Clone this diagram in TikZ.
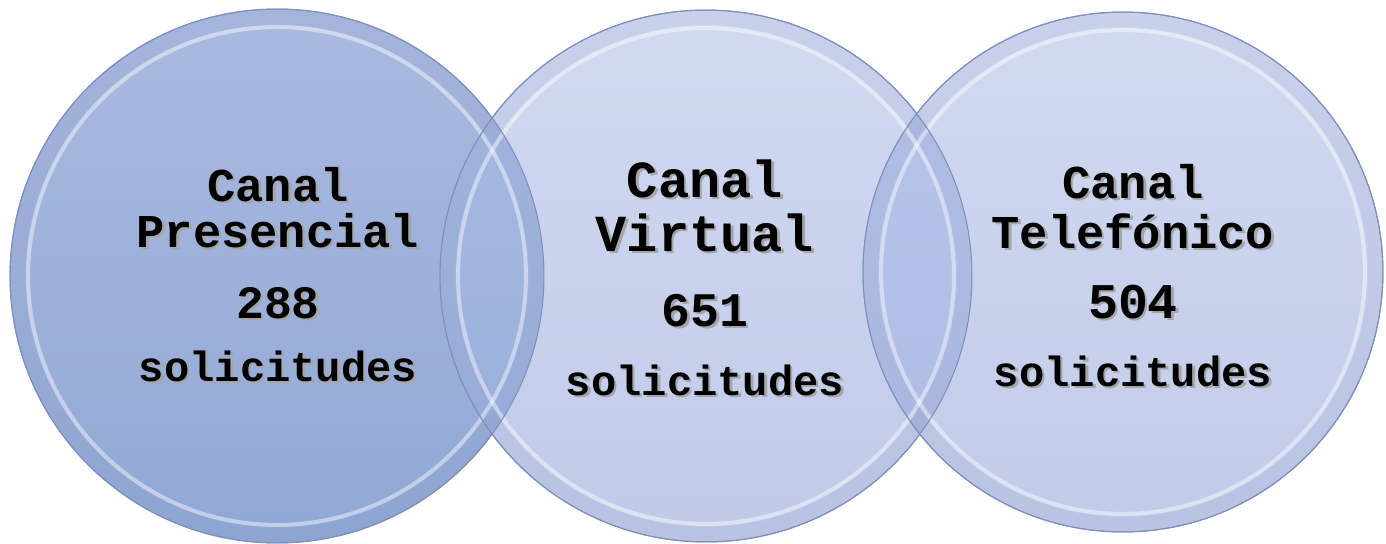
\documentclass[tikz,border=0pt]{standalone}
\usepackage{fontspec}
\setmonofont{Liberation Mono}
\usetikzlibrary{positioning}

\definecolor{presTop}{HTML}{AABAE0}
\definecolor{presBot}{HTML}{91A8D5}
\definecolor{virtTop}{HTML}{D2DAF1}
\definecolor{virtBot}{HTML}{C0CAE8}
\definecolor{teleTop}{HTML}{D2DAF1}
\definecolor{teleBot}{HTML}{C1CBE9}
\definecolor{lensATop}{HTML}{A9BAE3}
\definecolor{lensABot}{HTML}{98AEDC}
\definecolor{lensBTop}{HTML}{BAC6EB}
\definecolor{lensBBot}{HTML}{ADBAE3}
\definecolor{rimc}{HTML}{8090BC}

% gray drop shadow behind a text
\newcommand{\shd}[1]{\rlap{\kern1.4pt\raisebox{-1.4pt}{\textcolor{black!35}{#1}}}#1}

\tikzset{
  bubble/.style={shape=circle, draw=rimc, line width=0.6pt, minimum size=#1, inner sep=0pt},
  glow/.style={draw=white, draw opacity=0.45, line width=0.08cm},
  edgeband/.style={draw=rimc, draw opacity=0.12, line width=0.3cm},
  txt/.style={font=\fontsize{#1}{#1}\selectfont\ttfamily\bfseries, anchor=base, inner sep=0pt}
}

\begin{document}
\begin{tikzpicture}[x=0.02cm, y=-0.02cm]
   \useasboundingbox (0,0) rectangle (1386,544);

   % circles
   \node(pres) at (277,276) [bubble=10.68cm, top color=presTop, bottom color=presBot] {};
   \node(virt) at (706,276) [bubble=10.64cm, top color=virtTop, bottom color=virtBot] {};
   \node(tele) at (1123,272) [bubble=10.40cm, top color=teleTop, bottom color=teleBot] {};

   % overlaps
   \begin{scope}
     \clip (pres.center) circle [radius=5.34cm];
     \shade[top color=lensATop, bottom color=lensABot] (virt.center) circle [radius=5.32cm];
   \end{scope}
   \begin{scope}
     \clip (virt.center) circle [radius=5.32cm];
     \shade[top color=lensBTop, bottom color=lensBBot] (tele.center) circle [radius=5.20cm];
   \end{scope}

   % rims
   \draw[edgeband] (pres.center) circle [radius=5.19cm];
   \draw[edgeband] (virt.center) circle [radius=5.17cm];
   \draw[edgeband] (tele.center) circle [radius=5.05cm];
   \draw[glow] (pres.center) circle [radius=4.98cm];
   \draw[glow] (virt.center) circle [radius=4.96cm];
   \draw[glow] (tele.center) circle [radius=4.84cm];
   \draw[rimc, line width=0.6pt] (pres.center) circle [radius=5.34cm];
   \draw[rimc, line width=0.6pt] (virt.center) circle [radius=5.32cm];
   \draw[rimc, line width=0.6pt] (tele.center) circle [radius=5.20cm];

   % texts
   \node(pres1) at (278,201) [txt=26.8] {\shd{Canal}};
   \node(pres2) at (278,247) [txt=26.8] {\shd{Presencial}};
   \node(pres3) at (278,318) [txt=26.4] {\shd{288}};
   \node(pres4) at (278,381) [txt=24] {\shd{solicitudes}};

   \node(virt1) at (705,197) [txt=29.6] {\shd{Canal}};
   \node(virt2) at (705,251) [txt=29.6] {\shd{Virtual}};
   \node(virt3) at (705,326) [txt=27.4] {\shd{651}};
   \node(virt4) at (705,395) [txt=24] {\shd{solicitudes}};

   \node(tele1) at (1133,198) [txt=26.8] {\shd{Canal}};
   \node(tele2) at (1133,248) [txt=26.8] {\shd{Telefónico}};
   \node(tele3) at (1133,318) [txt=28.4] {\shd{504}};
   \node(tele4) at (1133,386) [txt=24] {\shd{solicitudes}};

\end{tikzpicture}
\end{document}
